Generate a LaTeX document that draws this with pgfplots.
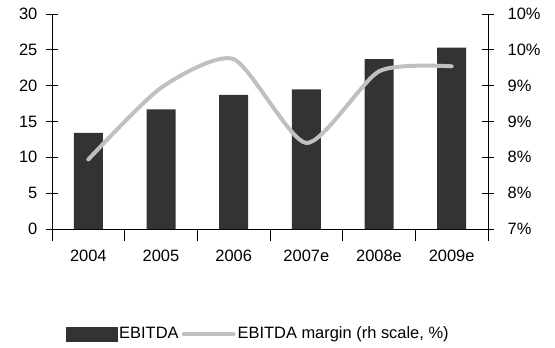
\documentclass[border=0pt]{standalone}
\usepackage{pgfplots}
\pgfplotsset{compat=1.18}
\usepackage{fontspec}
\setmainfont{Liberation Sans}
\definecolor{barcol}{HTML}{333333}
\definecolor{linecol}{HTML}{C0C0C0}

\begin{document}
\begin{tikzpicture}[x=1bp,y=1bp]
\fontsize{16.5}{19}\selectfont
\path (0,0) rectangle (555,347);
\pgfplotsset{
  common/.style={
    scale only axis, width=436bp, height=215bp,
    at={(52bp,118bp)}, anchor=south west,
    xmin=-0.5, xmax=5.5,
    tick align=center,
    major tick length=12bp, minor tick length=12bp,
    axis line style={line width=0.8bp},
    every tick/.style={black, line width=0.8bp},
    ticklabel style={font=\fontsize{16.5}{19}\selectfont},
    /pgf/number format/assume math mode=true,
  }
}
% EBITDA bars on the left scale
\begin{axis}[common,
    axis y line*=left, axis x line*=bottom,
    ymin=0, ymax=30, ytick={0,5,...,30},
    yticklabel style={xshift=-3bp},
    xtick={0,...,5},
    xticklabels={2004,2005,2006,2007e,2008e,2009e},
    xticklabel style={yshift=-3bp},
    major x tick style={draw=none},
    minor xtick={-0.5,0.5,...,5.5},
    ybar, bar width=29bp, bar shift=0pt,
  ]
  \addplot[fill=barcol, draw=none] coordinates {
    (0,13.4) (1,16.7) (2,18.7) (3,19.5) (4,23.7) (5,25.3)};
\end{axis}
% EBITDA margin on the right scale
\begin{axis}[common,
    axis y line*=right, axis x line=none,
    ymin=7, ymax=10, ytick={7,7.5,...,10},
    yticklabels={7\%,8\%,8\%,9\%,9\%,10\%,10\%},
    yticklabel style={xshift=8bp},
    legend columns=2,
    legend style={draw=none, fill=none, at={(0.473,-0.488)}, anchor=center,
      font=\fontsize{16.5}{19}\selectfont,
      /tikz/every even column/.append style={column sep=1bp}},
  ]
  \addlegendimage{legend image code/.code={\fill[barcol] (0bp,-6.8bp) rectangle (51bp,6.8bp);}}
  \addlegendentry{EBITDA}
  \addplot[linecol, line width=4bp, line cap=round, smooth, tension=0.4,
    legend image code/.code={\draw[linecol, line width=4bp, line cap=round] (0bp,0bp) -- (50bp,0bp);}]
    coordinates {(0,7.97) (1,8.97) (2,9.37) (3,8.20) (4,9.20) (5,9.27)};
  \addlegendentry{EBITDA margin (rh scale, \%)}
\end{axis}
\end{tikzpicture}
\end{document}
